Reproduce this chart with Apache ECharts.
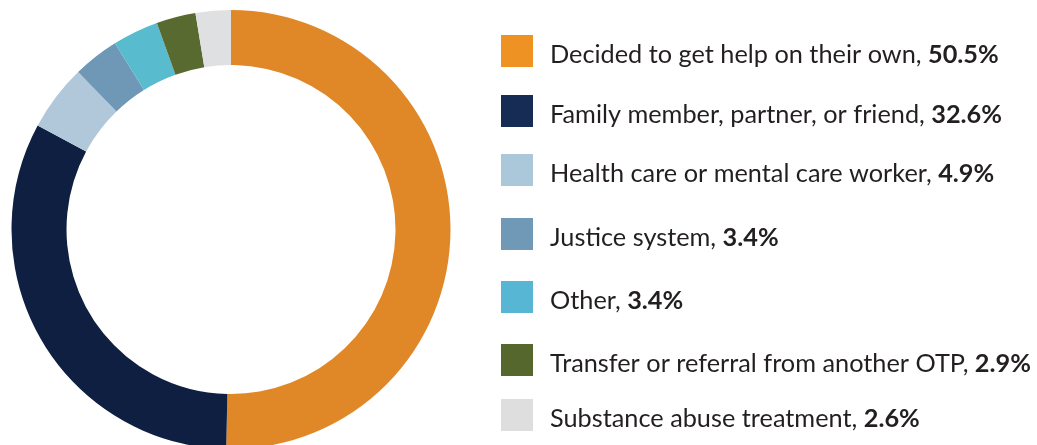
<!DOCTYPE html>
<html>
<head>
<meta charset="utf-8">
<script src="https://cdn.jsdelivr.net/npm/echarts@6/dist/echarts.min.js"></script>
<style>html,body{margin:0;padding:0;background:#fff;}#c{width:1037px;height:445px;}</style>
</head>
<body>
<div id="c"></div>
<script>
var categories = [
  'Decided to get help on their own',
  'Family member, partner, or friend',
  'Health care or mental care worker',
  'Justice system',
  'Other',
  'Transfer or referral from another OTP',
  'Substance abuse treatment'
];
var values = [50.5, 32.6, 4.9, 3.4, 3.4, 2.9, 2.6];

var sliceColors = ['#E08827', '#0E1F42', '#B1C7DA', '#6F97B6', '#58BBCE', '#586A2F', '#DFE0E2'];
var legendColors = ['#EE9224', '#172C55', '#ABC8DA', '#7099B8', '#57B6D3', '#56672E', '#DEDEDE'];
var legendTops = [35, 95, 154, 218, 281, 344, 399];

var legends = categories.map(function (name, i) {
  return {
    left: 501,
    top: legendTops[i],
    orient: 'vertical',
    icon: 'rect',
    itemWidth: 32,
    itemHeight: 32,
    padding: 0,
    selectedMode: false,
    data: [{ name: name, itemStyle: { color: legendColors[i] } }],
    formatter: function (n) {
      return '{a|' + n + ', }{b|' + values[categories.indexOf(n)].toFixed(1) + '%}';
    },
    textStyle: {
      padding: [8, 0, 0, 12],
      rich: {
        a: { fontFamily: 'Lato', fontSize: 25.3, color: '#231F20' },
        b: { fontFamily: 'Lato', fontSize: 25.3, fontWeight: 'bold', color: '#231F20' }
      }
    }
  };
});

var chart = echarts.init(document.getElementById('c'), null, { renderer: 'canvas' });
chart.setOption({
  animation: false,
  color: sliceColors,
  legend: legends,
  series: [{
    type: 'pie',
    center: [231, 229.5],
    radius: [164.5, 219.5],
    startAngle: 90,
    clockwise: true,
    silent: true,
    label: { show: false },
    labelLine: { show: false },
    itemStyle: { borderWidth: 0 },
    data: categories.map(function (n, i) { return { name: n, value: values[i] }; })
  }]
});
</script>
</body>
</html>
